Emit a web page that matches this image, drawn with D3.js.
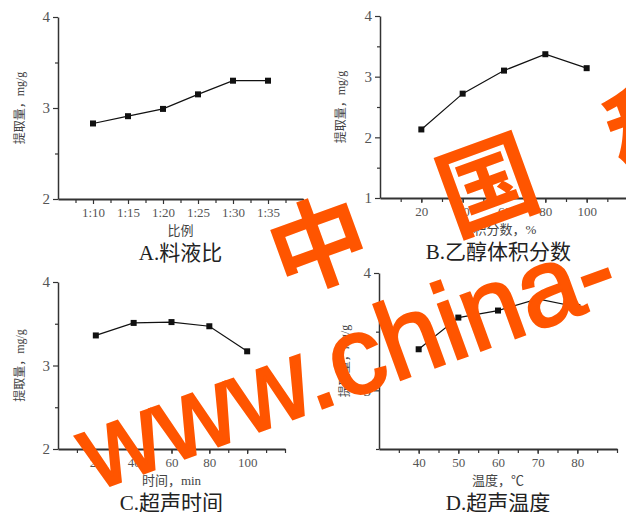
<!DOCTYPE html>
<html>
<head>
<meta charset="utf-8">
<script src="https://cdn.jsdelivr.net/npm/d3@7"></script>
<style>
body { margin: 0; background: #fff; }
svg { display: block; }
</style>
</head>
<body>
<div id="chart"></div>
<script>
var W = 626, H = 512;

// data
var ratioLabels = ["1:10", "1:15", "1:20", "1:25", "1:30", "1:35"];
var ratioYield = [2.83, 2.91, 2.99, 3.15, 3.30, 3.30];

var ethanolPct = [20, 40, 60, 80, 100];
var ethanolYield = [2.13, 2.72, 3.10, 3.37, 3.14];

var timeMin = [20, 40, 60, 80, 100];
var timeYield = [3.36, 3.51, 3.52, 3.47, 3.17];

var tempC = [40, 50, 60, 70, 80];
var tempYield = [3.35, 3.62, 3.68, 3.78, 3.71];

var yTitle = "提取量，mg/g";

var serif = "'Liberation Serif', 'DejaVu Serif', serif";
var cjk = "'Liberation Serif', 'Noto Sans CJK SC', serif";

var svg = d3.select("#chart").append("svg")
  .attr("width", W)
  .attr("height", H);

//panel layouts
var panels = [
  {
    xs: ratioLabels.map(function(d, i){ return i + 1; }), ys: ratioYield,
    xDomain: [0, 7], xRange: [58, 303], yDomain: [2, 4], yRange: [199, 17],
    xMajor: d3.range(1, 8), xMinor: d3.range(0.5, 7, 1),
    xFormat: function(v){ return ratioLabels[v - 1] || ""; },
    yMajor: [2, 3, 4], yMinor: [2.5, 3.5],
    xTitle: "比例", sub: "A.料液比", yTitleX: 20
  },
  {
    xs: ethanolPct, ys: ethanolYield,
    xDomain: [0, 120], xRange: [380, 628], yDomain: [1, 4], yRange: [198, 16],
    xMajor: d3.range(20, 120, 20), xMinor: d3.range(10, 121, 10),
    xFormat: d3.format("d"),
    yMajor: [1, 2, 3, 4], yMinor: [1.5, 2.5, 3.5],
    xTitle: "体积分数，%", sub: "B.乙醇体积分数", yTitleX: 341
  },
  {
    xs: timeMin, ys: timeYield,
    xDomain: [0, 120], xRange: [58, 285], yDomain: [2, 4], yRange: [449, 282],
    xMajor: d3.range(20, 120, 20), xMinor: d3.range(10, 121, 10),
    xFormat: d3.format("d"),
    yMajor: [2, 3, 4], yMinor: [2.5, 3.5],
    xTitle: "时间，min", sub: "C.超声时间", yTitleX: 20
  },
  {
    xs: tempC, ys: tempYield,
    xDomain: [30, 90], xRange: [379, 617], yDomain: [2.5, 4], yRange: [449, 273],
    xMajor: d3.range(40, 90, 10), xMinor: d3.range(35, 91, 5),
    xFormat: d3.format("d"),
    yMajor: [3, 4], yMinor: [2.5, 3.5],
    xTitle: "温度，℃", sub: "D.超声温度", yTitleX: 345
  }
];

panels.forEach(function(p){
  var x = d3.scaleLinear().domain(p.xDomain).range(p.xRange);
  var y = d3.scaleLinear().domain(p.yDomain).range(p.yRange);
  var g = svg.append("g");
  var y0 = p.yRange[0], x0 = p.xRange[0];

  // minor ticks first
  g.append("g")
    .attr("transform", "translate(0," + y0 + ")")
    .call(d3.axisBottom(x).tickValues(p.xMinor).tickSize(4).tickFormat(""))
    .call(function(a){ a.select(".domain").remove(); });
  g.append("g")
    .attr("transform", "translate(" + x0 + ",0)")
    .call(d3.axisLeft(y).tickValues(p.yMinor).tickSize(3).tickFormat(""))
    .call(function(a){ a.select(".domain").remove(); });

  var xa = g.append("g")
    .attr("transform", "translate(0," + y0 + ")")
    .call(d3.axisBottom(x).tickValues(p.xMajor).tickSize(5).tickSizeOuter(0)
      .tickPadding(4).tickFormat(p.xFormat));
  var ya = g.append("g")
    .attr("transform", "translate(" + x0 + ",0)")
    .call(d3.axisLeft(y).tickValues(p.yMajor).tickSize(5).tickSizeOuter(0)
      .tickPadding(3).tickFormat(d3.format("d")));

  g.selectAll(".tick line").attr("stroke", "#333").attr("stroke-width", 1.2);
  xa.select(".domain").attr("stroke", "#333").attr("stroke-width", 2);
  ya.select(".domain").attr("stroke", "#333").attr("stroke-width", 1.5);
  xa.selectAll("text").attr("font-family", serif).attr("font-size", 13).attr("fill", "#555");
  ya.selectAll("text").attr("font-family", serif).attr("font-size", 15).attr("fill", "#555");

  var pts = p.xs.map(function(v, i){ return [v, p.ys[i]]; });
  var line = d3.line().x(function(d){ return x(d[0]); }).y(function(d){ return y(d[1]); });

  g.append("path")
    .datum(pts)
    .attr("d", line)
    .attr("fill", "none")
    .attr("stroke", "#111")
    .attr("stroke-width", 1.2);

  g.selectAll("rect.pt")
    .data(pts)
    .enter()
    .append("rect")
    .attr("class", "pt")
    .attr("x", function(d){ return x(d[0]) - 3; })
    .attr("y", function(d){ return y(d[1]) - 3; })
    .attr("width", 6)
    .attr("height", 6)
    .attr("fill", "#111");

  var mid = (p.xRange[0] + Math.min(p.xRange[1], 617)) / 2;
  if (p.xRange[0] < 300) mid = (p.xRange[0] + p.xRange[1]) / 2;

  g.append("text")
    .attr("x", mid)
    .attr("y", y0 + 31)
    .attr("dominant-baseline", "central")
    .attr("text-anchor", "middle")
    .attr("font-family", cjk)
    .attr("font-size", 13)
    .attr("fill", "#444")
    .text(p.xTitle);

  g.append("text")
    .attr("x", mid)
    .attr("y", y0 + 54)
    .attr("dominant-baseline", "central")
    .attr("text-anchor", "middle")
    .attr("font-family", cjk)
    .attr("font-size", 21)
    .attr("fill", "#222")
    .text(p.sub);

  var ym = (p.yRange[0] + p.yRange[1]) / 2;
  g.append("text")
    .attr("transform", "translate(" + p.yTitleX + "," + ym + ") rotate(-90)")
    .attr("dominant-baseline", "central")
    .attr("text-anchor", "middle")
    .attr("font-family", cjk)
    .attr("font-size", 12)
    .attr("fill", "#444")
    .text(yTitle);
});

////////// watermark //////////
var markChars = ["中", "国", "科"];
var markAngle = -20;
svg.selectAll("text.mark")
  .data(markChars)
  .enter()
  .append("text")
  .attr("class", "mark")
  .attr("transform", function(d, i){
    return "translate(" + (316 + i * 169) + "," + (238 - i * 60) + ") rotate(" + markAngle + ")";
  })
  .attr("text-anchor", "middle")
  .attr("dominant-baseline", "central")
  .attr("font-family", "'Noto Sans CJK SC', sans-serif")
  .attr("font-weight", "bold")
  .attr("font-size", 98)
  .attr("fill", "#ff5500")
  .text(function(d){ return d; });

svg.append("text")
  .attr("transform", "translate(95,491) rotate(" + markAngle + ")")
  .attr("font-family", "'Liberation Sans', Arial, sans-serif")
  .attr("font-size", 110)
  .attr("fill", "#ff5500")
  .attr("stroke", "#ff5500")
  .attr("stroke-width", 2.5)
  .text("www.china-");
</script>
</body>
</html>
